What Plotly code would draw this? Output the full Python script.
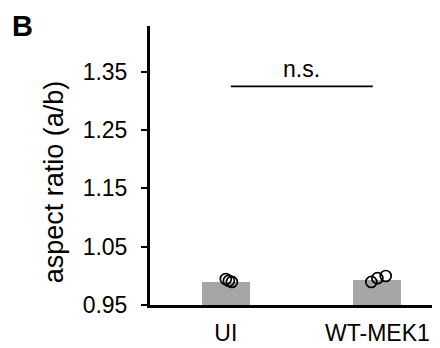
import plotly.graph_objects as go

categories = ["UI", "WT-MEK1"]
bar_means = [0.990, 0.993]
ui_points = [0.9945, 0.9915, 0.9895]
mek_points = [0.9895, 0.9960, 0.9997]
y_ticks = [0.95, 1.05, 1.15, 1.25, 1.35]
y_tick_labels = ["0.95", "1.05", "1.15", "1.25", "1.35"]
sig_label = "n.s."
sig_level = 1.325
panel_label = "B"
y_title = "aspect ratio (a/b)"

# visual jitter of the replicate points (category units)
ui_offsets = [0.0, 0.02, 0.04]
mek_offsets = [-0.04, 0.0, 0.055]

FONT = "Liberation Sans, Arial, sans-serif"

fig = go.Figure()
fig.add_trace(go.Bar(
    x=[0, 1], y=[m - 0.95 for m in bar_means], base=0.95,
    width=0.317, marker=dict(color="#a6a6a6", line=dict(width=0)),
    showlegend=False, hoverinfo="skip",
))
fig.add_trace(go.Scatter(
    x=[0 + o for o in ui_offsets] + [1 + o for o in mek_offsets],
    y=ui_points + mek_points,
    mode="markers",
    marker=dict(symbol="circle-open", size=11, color="black", line=dict(width=1.7)),
    showlegend=False,
))
fig.add_shape(type="line", xref="x", yref="y", x0=0.033, x1=0.97,
              y0=sig_level, y1=sig_level, line=dict(color="black", width=1.8))
fig.add_annotation(x=0.5, y=sig_level, xref="x", yref="y", text=sig_label,
                   showarrow=False, yanchor="bottom", yshift=2,
                   font=dict(family=FONT, size=23, color="black"))
fig.add_annotation(x=-0.441, y=1.0645, xref="paper", yref="paper",
                   text="<b>%s</b>" % panel_label, showarrow=False,
                   xanchor="center", yanchor="top",
                   font=dict(family=FONT, size=29, color="black"))
fig.add_annotation(x=-0.331, y=0.44, xref="paper", yref="paper", text=y_title,
                   textangle=-90, showarrow=False, xanchor="center", yanchor="middle",
                   font=dict(family=FONT, size=27, color="black"))

fig.update_layout(
    width=432, height=340,
    margin=dict(l=142, r=0, t=18, b=43),
    paper_bgcolor="white", plot_bgcolor="white",
    font=dict(family=FONT, size=23, color="black"),
    bargap=0,
)
fig.update_xaxes(
    range=[-0.5, 1.413], tickvals=[0, 1], ticktext=categories,
    showline=True, linecolor="black", linewidth=3, ticks="",
    showgrid=False, zeroline=False, ticklabelstandoff=5,
)
fig.update_yaxes(
    range=[0.95, 1.4285], tickvals=y_ticks, ticktext=y_tick_labels,
    showline=True, linecolor="black", linewidth=3, ticks="outside",
    ticklen=6, tickwidth=2, tickcolor="black",
    showgrid=False, zeroline=False, ticklabelstandoff=9,
)
fig.write_html("out.html")
